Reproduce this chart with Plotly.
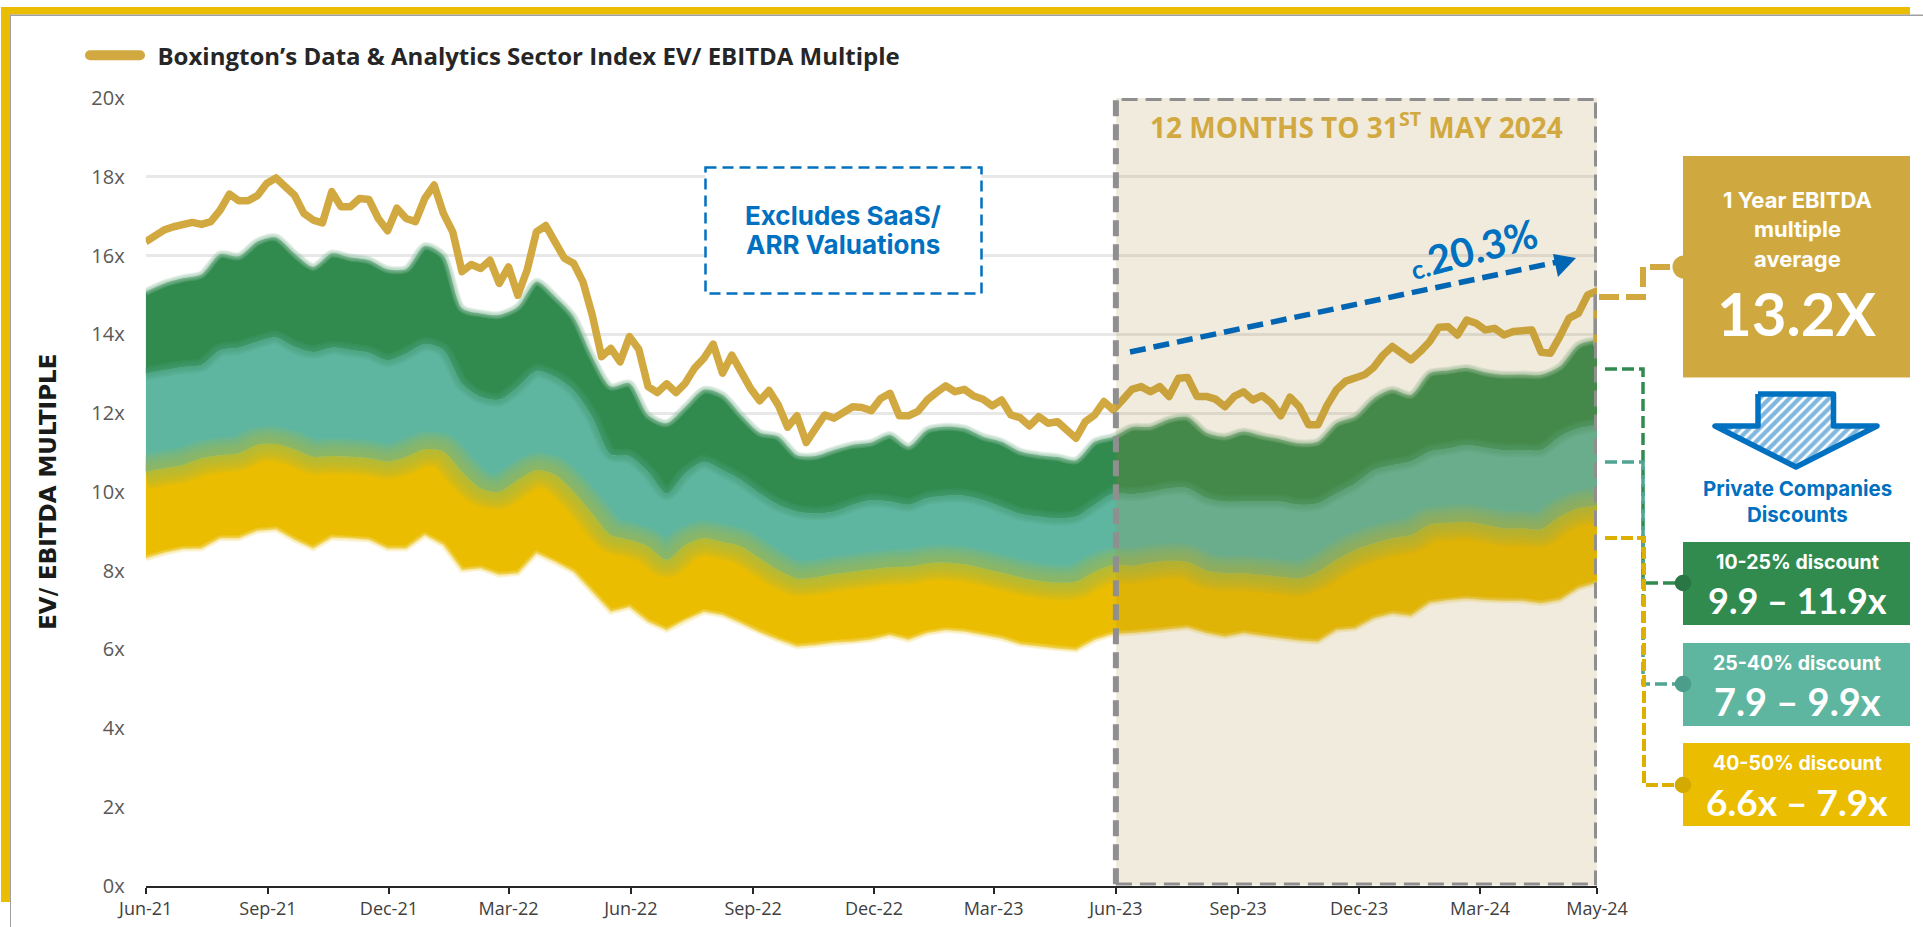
import pandas as pd
import plotly.graph_objects as go

START = "2021-06-01"
AXIS_END = "2024-05-28"
W, H = 1923, 927

# weekly index value
line_values = [
    16.35,16.52,16.65,16.73,16.80,16.84,16.79,16.86,17.15,17.56,17.39,17.39,17.52,17.83,17.97,17.76,
    17.53,17.07,16.90,16.83,17.62,17.24,17.24,17.45,17.42,16.94,16.63,17.20,16.94,16.86,17.45,17.79,
    17.07,16.60,15.59,15.77,15.67,15.88,15.29,15.71,14.99,15.63,16.60,16.76,16.35,15.93,15.80,15.33,
    14.49,13.43,13.64,13.30,13.94,13.62,12.67,12.52,12.74,12.52,12.76,13.14,13.39,13.75,13.01,13.47,
    13.05,12.63,12.31,12.57,12.20,11.64,11.93,11.25,11.61,11.95,11.87,12.04,12.16,12.14,12.06,12.37,
    12.50,11.93,11.93,12.04,12.33,12.52,12.69,12.54,12.60,12.43,12.35,12.18,12.33,11.95,11.88,11.67,
    11.91,11.74,11.78,11.57,11.36,11.78,11.95,12.29,12.08,12.33,12.60,12.67,12.54,12.67,12.42,12.88,
    12.90,12.42,12.42,12.35,12.16,12.42,12.54,12.33,12.44,12.25,11.93,12.40,12.16,11.70,11.70,12.20,
    12.59,12.81,12.87,12.97,13.16,13.47,13.69,13.52,13.35,13.56,13.81,14.18,14.19,13.98,14.36,14.28,
    14.11,14.15,13.98,14.07,14.07,14.11,13.54,13.52,13.94,14.41,14.53,15.00,15.10,
]
line_last_drop = 13.7

# two-weekly band edges
band_top = [
    15.08,15.29,15.42,15.52,16.03,15.98,16.35,16.46,16.05,15.71,16.05,15.95,15.88,15.65,15.66,16.24,
    16.00,14.66,14.53,14.49,14.70,15.33,14.95,14.44,13.43,12.67,12.75,11.95,11.74,12.15,12.59,12.46,
    11.95,11.50,11.40,10.93,10.91,11.06,11.19,11.25,11.44,11.15,11.57,11.65,11.61,11.40,11.27,11.02,
    10.93,10.88,10.80,11.27,11.40,11.64,11.65,11.84,11.89,11.50,11.40,11.53,11.42,11.33,11.23,11.27,
    11.74,11.91,12.37,12.59,12.46,13.01,13.08,13.14,13.03,12.97,12.98,12.97,13.18,13.73,13.86,
]
band_green_teal = [
    13.00,13.09,13.17,13.22,13.60,13.66,13.81,13.92,13.68,13.55,13.66,13.60,13.53,13.34,13.51,13.75,
    13.60,12.75,12.41,12.34,12.66,13.07,12.92,12.58,11.90,10.95,10.90,10.51,9.96,10.47,10.76,10.55,
    10.30,9.96,9.67,9.50,9.45,9.50,9.67,9.79,9.75,9.67,9.84,9.90,9.90,9.79,9.62,9.44,
    9.37,9.32,9.37,9.67,9.96,9.94,10.00,10.09,10.09,9.84,9.75,9.75,9.75,9.75,9.67,9.71,
    9.96,10.21,10.55,10.68,10.77,11.02,11.10,11.19,11.12,11.06,11.06,11.06,11.40,11.61,11.70,
]
band_teal_yellow = [
    10.51,10.60,10.68,10.85,10.93,10.98,11.19,11.21,11.08,10.89,10.91,10.89,10.85,10.77,10.89,11.08,
    11.02,10.51,10.09,10.00,10.30,10.55,10.43,10.00,9.45,8.90,8.78,8.61,8.27,8.65,8.82,8.73,
    8.61,8.31,8.01,7.80,7.83,7.91,7.97,8.03,8.08,8.10,8.18,8.20,8.16,8.06,7.95,7.83,
    7.74,7.69,7.72,7.97,8.14,8.12,8.20,8.25,8.22,8.00,7.93,7.93,7.89,7.84,7.80,7.97,
    8.27,8.52,8.69,8.82,8.90,9.16,9.21,9.24,9.16,9.07,9.07,9.05,9.37,9.58,9.64,
]
band_bottom = [
    8.31,8.45,8.55,8.56,8.82,8.82,9.01,9.05,8.78,8.56,8.84,8.82,8.78,8.56,8.56,8.90,
    8.65,8.01,8.06,7.89,7.93,8.44,8.22,7.97,7.46,6.95,7.07,6.70,6.49,6.74,6.95,6.87,
    6.66,6.43,6.24,6.07,6.11,6.17,6.19,6.25,6.36,6.24,6.41,6.49,6.45,6.36,6.28,6.13,
    6.07,6.02,5.98,6.24,6.39,6.41,6.45,6.51,6.55,6.41,6.32,6.41,6.34,6.28,6.22,6.19,
    6.49,6.53,6.79,6.91,6.85,7.18,7.25,7.29,7.25,7.23,7.23,7.17,7.25,7.55,7.69,
]

x_tick_dates = ["2021-06-01","2021-09-01","2021-12-01","2022-03-01","2022-06-01","2022-09-01",
                "2022-12-01","2023-03-01","2023-06-01","2023-09-01","2023-12-01","2024-03-01",AXIS_END]
x_tick_labels = ["Jun-21","Sep-21","Dec-21","Mar-22","Jun-22","Sep-22","Dec-22","Mar-23","Jun-23",
                 "Sep-23","Dec-23","Mar-24","May-24"]
y_tick_values = [0,2,4,6,8,10,12,14,16,18,20]
y_tick_labels = ["0x","2x","4x","6x","8x","10x","12x","14x","16x","18x","20x"]

SERIES_NAME = "\u00a0\u00a0Boxington\u2019s Data & Analytics Sector Index EV/ EBITDA Multiple"
Y_TITLE = "EV/ EBITDA MULTIPLE"
PERIOD_START = "2023-06-01"

GOLD, GREEN, TEAL, YELLOW, BLUE = "#D1A940", "#318B4F", "#5FB6A0", "#EBBD00", "#0070C0"
WHITE = "#FFFFFF"
SANS, ALT, PANEL = "Open Sans", "Lato", "Inter"

line_x = list(pd.date_range(START, periods=len(line_values), freq="7D")) + [pd.Timestamp(AXIS_END)]
line_y = line_values + [line_last_drop]
band_x = list(pd.date_range(START, periods=len(band_top), freq="14D"))


def mix(a, b, alpha):
    ca = [int(a[i:i+2], 16) for i in (1, 3, 5)]
    cb = [int(b[i:i+2], 16) for i in (1, 3, 5)]
    r, g, bl = [round((p + q) / 2) for p, q in zip(ca, cb)]
    return f"rgba({r},{g},{bl},{alpha})"


fig = go.Figure()


def area(y, fill, color, shape="spline"):
    fig.add_trace(go.Scatter(x=band_x, y=y, mode="lines",
                             line=dict(width=0, color=color, shape=shape, smoothing=0.8),
                             fill=fill, fillcolor=color, hoverinfo="skip", showlegend=False))


area(band_bottom, "tozeroy", WHITE, "linear")
area(band_teal_yellow, "tonexty", YELLOW)
area(band_green_teal, "tonexty", TEAL)
area(band_top, "tonexty", GREEN)

# soft band edges
for y, a, b, widths, alpha, shape in [
    (band_top, GREEN, WHITE, [8, 6, 4, 2], 0.24, "spline"),
    (band_green_teal, GREEN, TEAL, [14, 11, 8, 5, 2], 0.2, "spline"),
    (band_teal_yellow, TEAL, YELLOW, [36, 32, 28, 24, 20, 16, 12, 8, 4], 0.13, "spline"),
    (band_bottom, YELLOW, WHITE, [6, 4, 2], 0.28, "linear"),
]:
    for w in widths:
        fig.add_trace(go.Scatter(x=band_x, y=y, mode="lines",
                                 line=dict(width=w, color=mix(a, b, alpha), shape=shape, smoothing=0.8),
                                 hoverinfo="skip", showlegend=False))

fig.add_trace(go.Scatter(x=line_x, y=line_y, mode="lines", line=dict(color=GOLD, width=7.5),
                         showlegend=False, name=SERIES_NAME))
fig.add_trace(go.Scatter(x=[None], y=[None], mode="lines", line=dict(color=GOLD, width=10),
                         name=SERIES_NAME, showlegend=True))

# hatched arrow lives on a full-canvas pixel-unit overlay axis
arrow_x = [1758, 1833.5, 1833.5, 1877, 1796, 1715, 1758, 1758]
arrow_y = [394, 394, 426, 426, 467, 426, 426, 394]
fig.add_trace(go.Scatter(x=arrow_x, y=arrow_y, xaxis="x2", yaxis="y2", mode="lines",
                         line=dict(color=BLUE, width=5.5), fill="toself", fillcolor="white",
                         fillpattern=dict(shape="/", size=7, solidity=0.62, fgcolor=BLUE, bgcolor="white"),
                         hoverinfo="skip", showlegend=False))

shapes = []


def rect(x0, y0, x1, y1, fill, line=None, dash=None, lw=0):
    shapes.append(dict(type="rect", xref="x2", yref="y2", x0=x0, y0=y0, x1=x1, y1=y1,
                       fillcolor=fill, layer="above",
                       line=dict(color=line or fill, width=lw, dash=dash or "solid")))


def path(pts, color, width, dash):
    d = "M " + " L ".join(f"{x} {y}" for x, y in pts)
    shapes.append(dict(type="path", xref="x2", yref="y2", path=d, layer="above",
                       line=dict(color=color, width=width, dash=dash)))


def dot(cx, cy, r, color):
    shapes.append(dict(type="circle", xref="x2", yref="y2", x0=cx-r, y0=cy-r, x1=cx+r, y1=cy+r,
                       fillcolor=color, line=dict(width=0), layer="above"))


# frame
rect(1, 7, 1910, 14.5, YELLOW)
rect(1, 7, 10, 902, YELLOW)
rect(10, 14.5, 1923, 16, "#A0A0A0")
rect(10, 14.5, 11, 927, "#A0A0A0")

# 12-month shaded window over the chart, then its dashed outline
shapes.append(dict(type="rect", xref="x", yref="y", x0=PERIOD_START, x1=AXIS_END, y0=0, y1=20,
                   fillcolor="rgba(167,130,42,0.16)", line=dict(width=0), layer="above"))
shapes.append(dict(type="rect", xref="x", yref="y", x0=PERIOD_START, x1=AXIS_END, y0=0, y1=20,
                   line=dict(color="#8F8F8F", width=6, dash="16px,8px"), layer="above"))

# note box
rect(705.5, 167.5, 981.5, 293.5, WHITE, line=BLUE, dash="11px,6px", lw=2.5)

# trend arrow
path([(1130, 352), (1562, 261)], "#0066B3", 5.5, "16px,8px")
shapes.append(dict(type="path", xref="x2", yref="y2", layer="above", fillcolor="#0066B3",
                   line=dict(width=0), path="M 1576 258 L 1553 254 L 1558 277 Z"))

# connectors
path([(1599, 297), (1643, 297), (1643, 267), (1675, 267)], GOLD, 6, "20px,7px")
path([(1605, 369), (1643, 369), (1643, 583), (1680, 583)], "#318B4F", 3.5, "12px,5px")
path([(1605, 462), (1643, 462), (1643, 684), (1680, 684)], "#4FA592", 3.5, "12px,5px")
path([(1605, 538), (1644, 538), (1644, 785), (1678, 785)], "#DDB000", 4, "12px,4px")

# side boxes
rect(1683, 156, 1910, 377.5, "#CFA93F")
rect(1683, 542, 1910, 625, GREEN)
rect(1683, 643, 1910, 726, TEAL)
rect(1683, 743, 1910, 826, YELLOW)
dot(1684, 267, 11.5, "#CFA93F")
dot(1683, 583, 8.3, "#2A7645")
dot(1683, 684, 8.3, "#4B9E8C")
dot(1683, 785, 8.3, "#D4AA00")

ann = []


def text(x, y, s, size, color, font=PANEL, bold=True, angle=0):
    ann.append(dict(xref="x2", yref="y2", x=x, y=y, text=s, showarrow=False, textangle=angle,
                    xanchor="center", yanchor="middle",
                    font=dict(family=font, size=size, color=color, weight=700 if bold else 400)))


text(843, 215, "Excludes SaaS/", 26, BLUE)
text(843, 244, "ARR Valuations", 26, BLUE)
text(1356, 125, '12 MONTHS TO 31<sup style="font-size:15px">ST</sup> MAY 2024', 28, "#D1A940", font=SANS)
text(1473, 249, '<span style="font-size:26px">c.</span>20.3%', 40, BLUE, font=ALT, angle=-15)
text(1797, 200, "1 Year EBITDA", 22, WHITE)
text(1797, 229, "multiple", 22, WHITE)
text(1797, 259, "average", 22, WHITE)
text(1797, 313, "13.2X", 60, WHITE, font=ALT)
text(1797, 488, "Private Companies", 20.5, BLUE)
text(1797, 514, "Discounts", 20.5, BLUE)
text(1797, 562, "10-25% discount", 19.5, WHITE)
text(1797, 600, "9.9 \u2013 11.9x", 36, WHITE, font=ALT)
text(1797, 663, "25-40% discount", 19.5, WHITE)
text(1797, 701, "7.9 \u2013 9.9x", 38, WHITE, font=ALT)
text(1797, 763, "40-50% discount", 19.5, WHITE)
text(1797, 801, "6.6x \u2013 7.9x", 37, WHITE, font=ALT)

fig.update_layout(
    width=W, height=H,
    margin=dict(l=0, r=0, t=0, b=0, pad=0),
    paper_bgcolor="white", plot_bgcolor="rgba(0,0,0,0)",
    shapes=shapes, annotations=ann,
    showlegend=True,
    legend=dict(x=85 / W, xanchor="left", y=1 - 55.7 / H, yanchor="middle", itemwidth=50,
                bgcolor="rgba(0,0,0,0)", borderwidth=0,
                font=dict(family=SANS, size=24, color="#262626", weight=700)),
    xaxis=dict(type="date", domain=[145.7 / W, 1597 / W], range=[START, AXIS_END],
               tickmode="array", tickvals=x_tick_dates, ticktext=x_tick_labels,
               ticks="outside", ticklen=6, tickwidth=2, tickcolor="#262626",
               showline=True, linecolor="#262626", linewidth=2, showgrid=False, zeroline=False,
               tickangle=0, automargin=False,
               tickfont=dict(family=SANS, size=18, color="#404040")),
    yaxis=dict(domain=[1 - 885.5 / H, 1 - 98 / H], range=[0, 20],
               tickmode="array", tickvals=y_tick_values, ticktext=y_tick_labels,
               ticks="", showline=False, zeroline=False, automargin=False,
               showgrid=True, gridcolor="#E8E8E8", gridwidth=3, ticklabelstandoff=20,
               tickfont=dict(family=SANS, size=20, color="#595959"),
               title=dict(text=Y_TITLE, standoff=28,
                          font=dict(family="DejaVu Sans", size=23, color="#1A1A1A", weight=700))),
    xaxis2=dict(domain=[0, 1], range=[0, W], visible=False, fixedrange=True, anchor="y2"),
    yaxis2=dict(domain=[0, 1], range=[H, 0], visible=False, fixedrange=True, anchor="x2"),
)

post = """
document.body.style.margin='0';
document.querySelectorAll('.legendlines path').forEach(function(p){p.style.strokeLinecap='round';});
document.querySelectorAll('.js-line').forEach(function(p){p.style.strokeLinejoin='round';});
"""
fig.write_html("out.html", config={"displayModeBar": False}, post_script=post)
